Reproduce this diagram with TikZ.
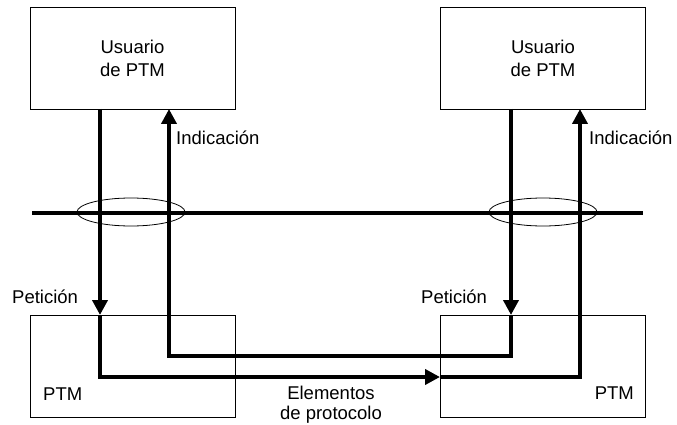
\documentclass[tikz,border=0pt]{standalone}
\usepackage{fontspec}
\setmainfont{Liberation Sans}
\usetikzlibrary{arrows.meta}

\begin{document}
\begin{tikzpicture}[x=1pt,y=-1pt,>={Triangle[length=15pt,width=15pt]}]
    \tikzstyle{box}=[draw, line width=0.8pt, minimum width=205pt, minimum height=102pt, inner sep=0pt]
    \tikzstyle{lbl}=[font=\fontsize{18.5}{23}\selectfont, inner sep=0pt, align=center]
    \tikzstyle{flow}=[line width=4pt]
    \tikzstyle{ring}=[line width=0.8pt]
    \useasboundingbox (0,0) rectangle (677,425);

    \node[box,lbl] (ul) at (132.5,58)  {Usuario\\de PTM};
    \node[box,lbl] (ur) at (543,58)    {Usuario\\de PTM};
    \node[box]     (pl) at (132.5,366) {};
    \node[box]     (pr) at (543,366)   {};

    \node[lbl,anchor=west] (indl) at (176,138) {Indicación};
    \node[lbl,anchor=west] (indr) at (589,138) {Indicación};
    \node[lbl,anchor=west] (petl) at (12,297)  {Petición};
    \node[lbl,anchor=west] (petr) at (421,297) {Petición};
    \node[lbl,anchor=west] (ptml) at (43,394)  {PTM};
    \node[lbl,anchor=east] (ptmr) at (634,393) {PTM};
    \node[lbl,font=\fontsize{18.5}{20}\selectfont] (elem) at (331,405) {Elementos\\de protocolo};

    % interfaz
    \coordinate (if1) at (32,213);
    \coordinate (if2) at (643,213);
    \draw[flow] (if1) -- (if2);
    \draw[ring] (131,212) ellipse [x radius=54, y radius=14];
    \draw[ring] (543,212) ellipse [x radius=54, y radius=14];

    % puntos de los trayectos
    \coordinate (a0) at (100,109);
    \coordinate (a1) at (100,315);
    \coordinate (a2) at (100,377);
    \coordinate (a3) at (440,377);
    \coordinate (a4) at (580,377);
    \coordinate (a5) at (580,109);
    \coordinate (b0) at (511,109);
    \coordinate (b1) at (511,315);
    \coordinate (b2) at (511,356);
    \coordinate (b3) at (169,356);
    \coordinate (b4) at (169,109);

    \draw[flow,->] (a0) -- (a1);
    \draw[flow,->] (a1) -- (a2) -- (a3);
    \draw[flow,->] (a3) -- (a4) -- (a5);
    \draw[flow,->] (b0) -- (b1);
    \draw[flow,->] (b1) -- (b2) -- (b3) -- (b4);
\end{tikzpicture}
\end{document}
